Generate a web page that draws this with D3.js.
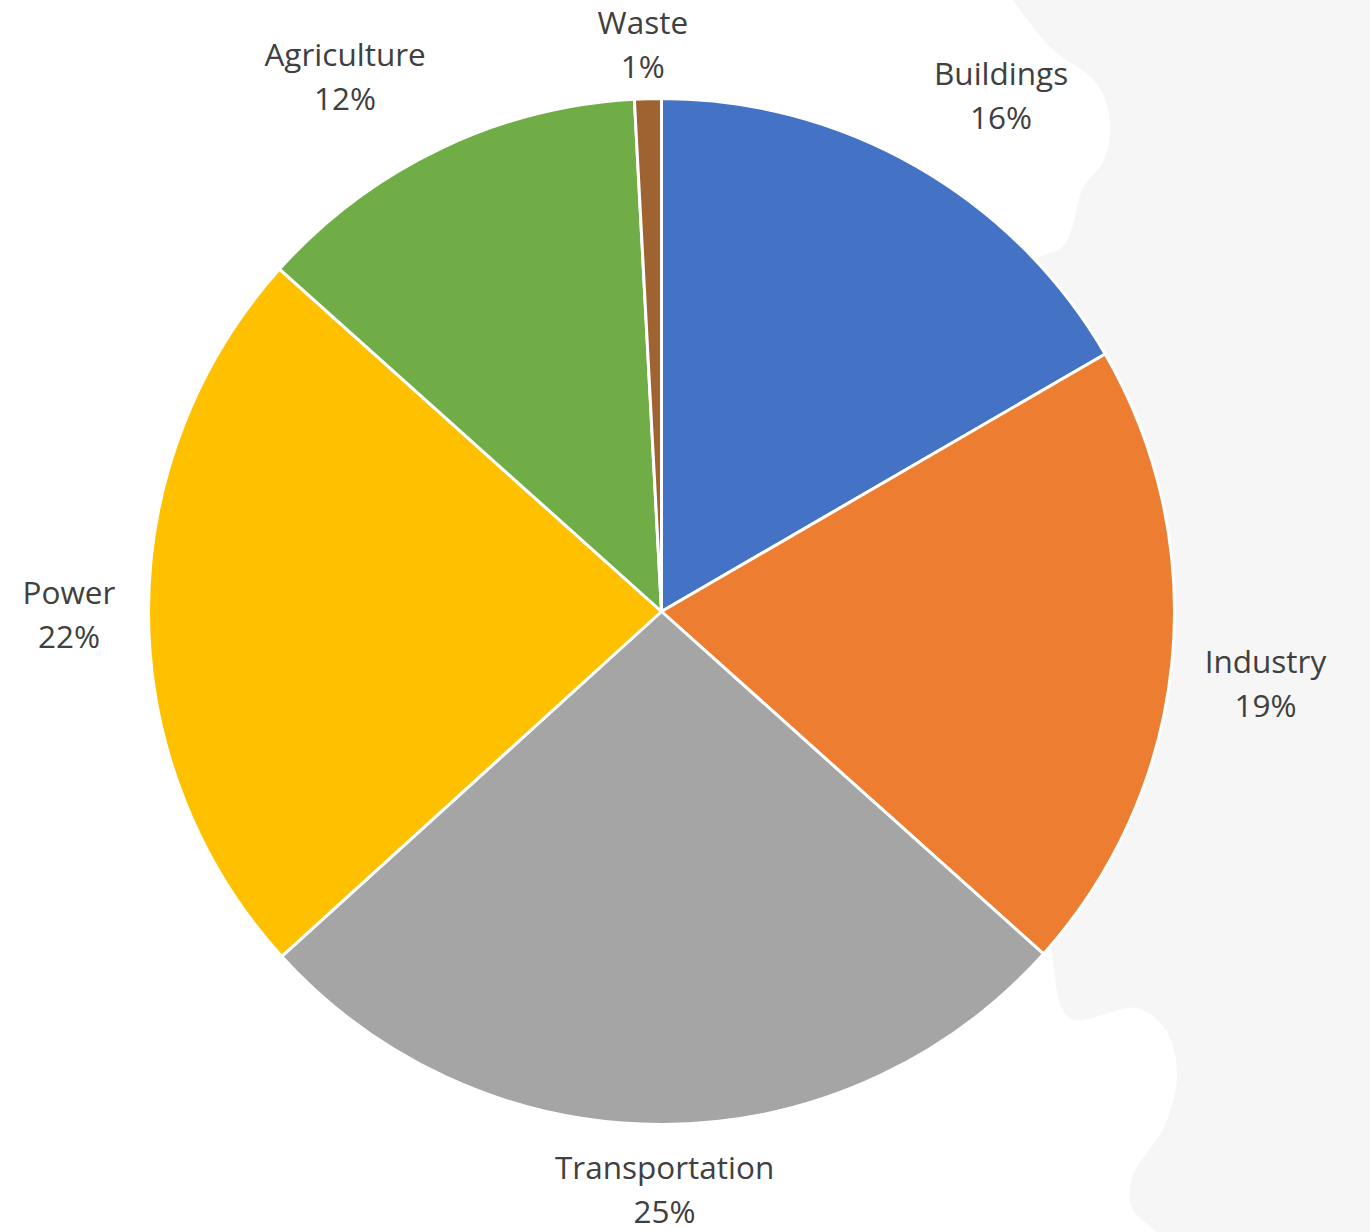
<html>
<head>
<meta charset="utf-8" />
<title>Emissions by sector</title>
<script src="https://cdn.jsdelivr.net/npm/d3@7"></script>
<style type="text/css">
	body{
		margin: 0;
		background: #fff;
	}
	svg text{
		font-family: "Open Sans", Lato, sans-serif;
		font-size: 31.5px;
		fill: #404040;
	}
</style>
</head>
<body>
<svg id="chart" width="1370" height="1232"></svg>

<script type="text/javascript">
	// sectors, clockwise from 12 o'clock
	var sectors = ["Buildings", "Industry", "Transportation", "Power", "Agriculture", "Waste"];
	var shares = [15.8, 19.0, 25.3, 22.2, 11.9, 0.8];
	var labels = ["16%", "19%", "25%", "22%", "12%", "1%"];
	var colors = ["#4472C4", "#ED7D31", "#A5A5A5", "#FFC000", "#70AD47", "#9E6330"];

	// the grey backdrop on the right of the screenshot
	var backdrop = [[1013,0],[1050,47],[1098,85],[1110,125],[1104,160],[1082,190],[1073,225],[1062,248],[1036,262],
		[1045,600],[1052,953],[1070,1018],[1137,1008],[1166,1030],[1177,1075],[1165,1125],[1132,1178],[1132,1208],[1157,1232]];

	var W = 1370, H = 1232;
	var cx = 661.5, cy = 611.5, r = 513;
	var lineH = 44, gap = 33, pad = 0;

	var svg = d3.select("#chart");

	svg.append("path")
	.attr("d", d3.line().curve(d3.curveCatmullRom.alpha(0.5))(backdrop) + "L" + W + "," + H + "L" + W + ",0Z")
	.attr("fill", "#f6f6f6");

	var pie = d3.pie().sort(null).value(function(d){ return d; });
	var arc = d3.arc().innerRadius(0).outerRadius(r);
	var arcs = pie(shares);

	var g = svg.append("g").attr("transform", "translate(" + cx + "," + cy + ")");

	g.selectAll("path.slice")
	.data(arcs)
	.enter()
	.append("path")
	.attr("class", "slice")
	.attr("d", arc)
	.attr("fill", function(d, i){ return colors[i]; })
	.attr("stroke", "#fff")
	.attr("stroke-width", 3)
	.attr("stroke-linejoin", "round");

	var lab = g.selectAll("text.lab")
	.data(arcs)
	.enter()
	.append("text")
	.attr("class", "lab")
	.attr("text-anchor", "middle");

	lab.append("tspan")
	.attr("x", 0).attr("dy", 0)
	.text(function(d, i){ return sectors[i]; });
	lab.append("tspan")
	.attr("x", 0).attr("dy", lineH)
	.text(function(d, i){ return labels[i]; });

	// outside-end labels: box hangs off a point just past the rim,
	// then gets pushed back inside the picture
	function side(v){ return Math.max(-1, Math.min(1, v * 3.5)); }

	lab.attr("transform", function(d){
		var a = (d.startAngle + d.endAngle) / 2;
		var s = Math.sin(a), c = -Math.cos(a);
		var bb = this.getBBox();
		var hw = bb.width / 2, hh = bb.height / 2;
		var bx = (r + gap) * s + hw * side(s);
		var by = (r + gap) * c + hh * side(c);
		// keep the box on the page
		bx = Math.max(pad - cx + hw, Math.min(W - pad - cx - hw, bx));
		by = Math.max(pad - cy + hh, Math.min(H - pad - cy - hh, by));
		return "translate(" + (bx - (bb.x + hw)) + "," + (by - (bb.y + hh)) + ")";
	});
</script>
</body>
</html>
